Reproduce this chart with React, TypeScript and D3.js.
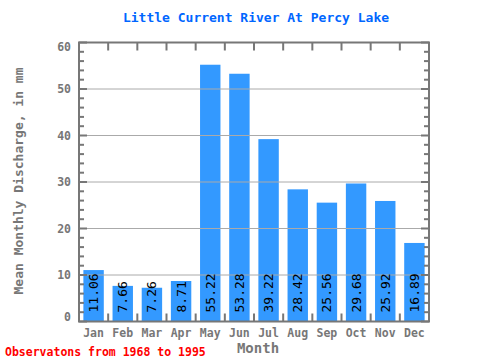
import React from "react";
import * as d3 from "d3";

const months = ["Jan","Feb","Mar","Apr","May","Jun","Jul","Aug","Sep","Oct","Nov","Dec"];
const values = [11.06, 7.66, 7.26, 8.71, 55.22, 53.28, 39.22, 28.42, 25.56, 29.68, 25.92, 16.89];
const yTicks = [0, 10, 20, 30, 40, 50, 60];
const minorTicks = d3.range(0, 61, 2);

const W = 480, H = 360;
const L = 79, R = 429, T = 42.5, B = 321.5;
const FONT = "'DejaVu Sans Mono', monospace";
const AX = "#777777";

export default function App() {
  const x = d3.scaleBand().domain(months).range([L, R]).paddingInner(0.3).paddingOuter(0.15);
  const xb = d3.scaleLinear().domain([0, 12]).range([L, R]);
  const y = d3.scaleLinear().domain([0, 60]).range([B, T]);
  return (
    <svg width={W} height={H} style={{ position: "absolute", left: 0, top: 0 }}>
      <rect width={W} height={H} fill="#fff" />
      <text x={256} y={22} textAnchor="middle" fill="#0066ff" fontFamily={FONT} fontWeight="bold" fontSize={13}>Little Current River At Percy Lake</text>
      {months.map((m, i) => (
        <rect key={m} x={x(m)} y={y(values[i])} width={x.bandwidth()} height={y(0) - y(values[i])} fill="#3399ff" />
      ))}
      {yTicks.filter(t => t > 0 && t < 60).map(t => (
        <line key={t} x1={L} x2={R} y1={y(t)} y2={y(t)} stroke="#aaaaaa" strokeWidth={1} />
      ))}
      {months.map((m, i) => (
        <text key={m} transform={`translate(${x(m)! + x.bandwidth() / 2 + 4.5},${B - 9}) rotate(-90)`} fontFamily={FONT} fontSize={13} fill="#000">{values[i].toFixed(2)}</text>
      ))}
      {minorTicks.map(t => {
        const major = t % 10 === 0;
        return (
          <g key={t}>
            <line x1={L} x2={L + (major ? 8 : 5)} y1={y(t)} y2={y(t)} stroke={AX} strokeWidth={2} />
            <line x1={R} x2={R - (major ? 8 : 5)} y1={y(t)} y2={y(t)} stroke={AX} strokeWidth={2} />
          </g>
        );
      })}
      {d3.range(1, 12).map(i => (
        <g key={i}>
          <line x1={xb(i)} x2={xb(i)} y1={T} y2={T + 8} stroke={AX} strokeWidth={2} />
          <line x1={xb(i)} x2={xb(i)} y1={B} y2={B - 8} stroke={AX} strokeWidth={2} />
        </g>
      ))}
      <rect x={L} y={T} width={R - L} height={B - T} fill="none" stroke={AX} strokeWidth={2} />
      {yTicks.map(t => (
        <text key={t} x={L - 8} y={Math.min(Math.max(y(t), T + 4.5), B - 4.5) + 4} textAnchor="end" fill={AX} fontFamily={FONT} fontWeight="bold" fontSize={11.5}>{t}</text>
      ))}
      {months.map(m => (
        <text key={m} x={xb(months.indexOf(m) + 0.5)} y={337} textAnchor="middle" fill={AX} fontFamily={FONT} fontWeight="bold" fontSize={11.5}>{m}</text>
      ))}
      <text x={258} y={353} textAnchor="middle" fill={AX} fontFamily={FONT} fontWeight="bold" fontSize={14}>Month</text>
      <text transform={`translate(23,181) rotate(-90)`} textAnchor="middle" fill={AX} fontFamily={FONT} fontWeight="bold" fontSize={13}>Mean Monthly Discharge, in mm</text>
      <text x={5} y={356} fill="#ff0000" fontFamily={FONT} fontWeight="bold" fontSize={11.5}>Observatons from 1968 to 1995</text>
    </svg>
  );
}
